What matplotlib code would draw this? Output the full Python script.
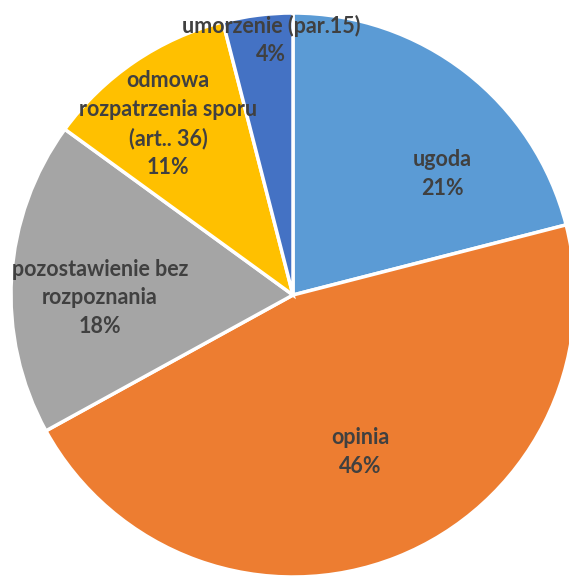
import matplotlib
matplotlib.use('Agg')
import matplotlib.pyplot as plt

# data
categories = ['ugoda', 'opinia', 'pozostawienie bez\nrozpoznania',
              'odmowa\nrozpatrzenia sporu\n(art.. 36)', 'umorzenie (par.15)']
shares = [21, 46, 18, 11, 4]
colors = ['#5B9BD5', '#ED7D31', '#A5A5A5', '#FFC000', '#4472C4']

W, H = 569, 578
fig = plt.figure(figsize=(W / 100, H / 100), dpi=100)
ax = fig.add_axes([0, 0, 1, 1])

cx, cy, r = 293, H - 295, 282
ax.pie(shares, colors=colors, startangle=90, counterclock=False,
       center=(cx, cy), radius=r, frame=True,
       wedgeprops=dict(edgecolor='white', linewidth=2.5))
ax.set_xlim(0, W)
ax.set_ylim(0, H)
ax.set_aspect('equal')
ax.axis('off')

# label block centres in pixel coords (image, y down)
label_pos = [(442, 174), (360, 452), (100, 298), (168, 124), (271, 40)]
for name, val, (x, y) in zip(categories, shares, label_pos):
    ax.text(x, H - y, f'{name}\n{val}%', ha='center', va='center',
            fontsize=15.5, fontweight='bold', color='#404040',
            family='Lato', linespacing=1.45, multialignment='center')

fig.savefig('out.png', dpi=100)
